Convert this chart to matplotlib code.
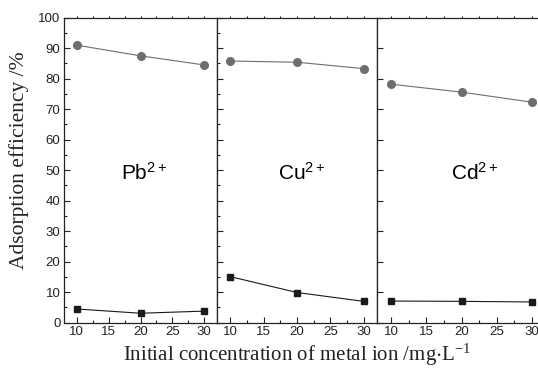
import matplotlib
matplotlib.use("Agg")
import matplotlib.pyplot as plt
from matplotlib.ticker import MultipleLocator, NullLocator

conc = [10, 20, 30]
ions = ["Pb$^{2+}$", "Cu$^{2+}$", "Cd$^{2+}$"]
circle_vals = [[91.0, 87.5, 84.5],
               [85.8, 85.4, 83.3],
               [78.2, 75.6, 72.3]]
square_vals = [[4.5, 3.1, 3.8],
               [15.1, 9.9, 7.0],
               [7.1, 7.0, 6.8]]

plt.rcParams['font.family'] = ['Liberation Sans', 'DejaVu Sans']
plt.rcParams['mathtext.fontset'] = 'custom'
plt.rcParams['mathtext.rm'] = 'Liberation Sans'
plt.rcParams['mathtext.default'] = 'regular'

fig = plt.figure(figsize=(5.38, 3.68), dpi=100)
W, H = 538.0, 368.0
top, bot = 17.7, 322.7
# left edge and width of each panel, in pixels
boxes = [(64, 153), (217, 160), (377, 169)]
label_x = [17.0, 17.1, 18.5]

for i, (l, w) in enumerate(boxes):
    ax = fig.add_axes([l / W, 1 - bot / H, w / W, (bot - top) / H])
    ax.plot(conc, circle_vals[i], '-', color='#6e6e6e', lw=0.8,
            marker='o', ms=5.5, mfc='#6e6e6e', mec='#6e6e6e')
    ax.plot(conc, square_vals[i], '-', color='#1a1a1a', lw=0.8,
            marker='s', ms=4.8, mfc='#1a1a1a', mec='#1a1a1a')
    ax.set_xlim(8, 32)
    ax.set_ylim(0, 100)
    ax.xaxis.set_major_locator(MultipleLocator(5))
    ax.xaxis.set_minor_locator(MultipleLocator(2.5))
    ax.yaxis.set_major_locator(MultipleLocator(10))
    if i < 2:
        ax.yaxis.set_minor_locator(MultipleLocator(5))
    else:
        ax.yaxis.set_minor_locator(NullLocator())
    ax.tick_params(which='both', direction='in', top=False, right=False,
                   labelsize=9.5, pad=2.5, width=0.8, colors='#222222')
    ax.tick_params(which='major', length=4)
    ax.tick_params(which='minor', length=2.5)
    if i > 0:
        ax.tick_params(labelleft=False)
    # tiny outward ticks along the top edge
    sec = ax.secondary_xaxis('top')
    sec.xaxis.set_major_locator(MultipleLocator(2.5))
    sec.tick_params(direction='out', length=1.5, width=0.7, labeltop=False)
    sec.spines['top'].set_visible(False)
    for s in ax.spines.values():
        s.set_linewidth(0.9)
        s.set_color('#222222')
    ax.text(label_x[i], 46.8, ions[i], fontsize=15, ha='left', va='baseline')

fig.text(19 / W, 1 - 160 / H, 'Adsorption efficiency /%', rotation=90,
         ha='center', va='center', fontsize=15.5, family='Liberation Serif',
         color='#222222')
fig.text(297 / W, 1 - 355 / H, 'Initial concentration of metal ion /mg$\\cdot$L$^{-1}$',
         ha='center', va='center', fontsize=15, family='Liberation Serif',
         color='#222222')

fig.savefig('out.png', dpi=100)
